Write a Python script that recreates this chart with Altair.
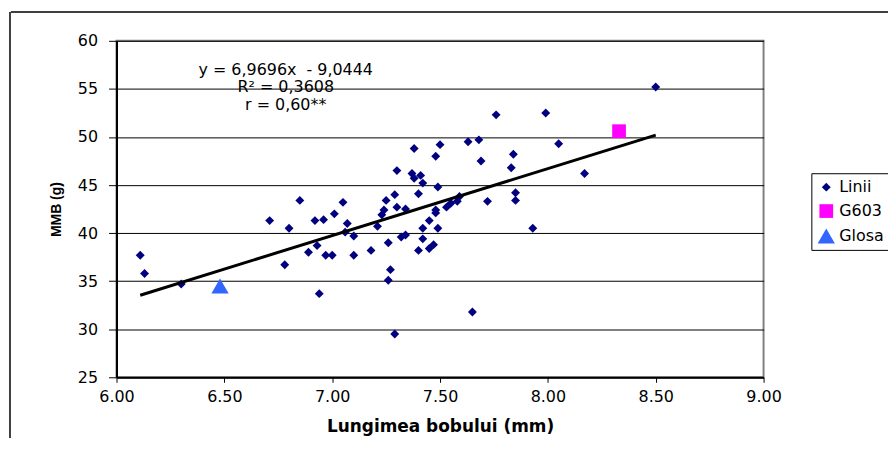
import altair as alt
import pandas as pd

# ---- data ----
linii_x = [6.11, 6.13, 6.30, 6.71, 6.78, 6.80, 6.85, 6.89, 6.92, 6.93, 6.94, 6.96,
           6.97, 7.00, 7.01, 7.05, 7.07, 7.06, 7.10, 7.10, 7.18, 7.21, 7.23, 7.24,
           7.25, 7.29, 7.26, 7.27, 7.26, 7.29, 7.30, 7.34, 7.34, 7.32, 7.40, 7.42,
           7.49, 7.48, 7.48, 7.45, 7.42, 7.49, 7.42, 7.40, 7.45, 7.47, 7.38, 7.50,
           7.48, 7.30, 7.37, 7.41, 7.38, 8.50, 7.76, 7.99, 7.63, 7.68, 8.05, 7.84,
           7.69, 7.83, 8.17, 7.72, 7.85, 7.85, 7.59, 7.55, 7.53, 7.58, 7.93, 7.65]
linii_y = [37.7, 35.8, 34.7, 41.3, 36.7, 40.5, 43.4, 38.0, 41.3, 38.7, 33.7, 41.4,
           37.7, 37.7, 42.0, 43.2, 41.0, 40.1, 39.7, 37.7, 38.2, 40.7, 41.9, 42.4,
           43.4, 44.0, 39.0, 36.2, 35.1, 29.5, 42.7, 42.5, 39.8, 39.6, 44.1, 45.2,
           44.8, 42.4, 42.1, 41.3, 40.5, 40.5, 39.4, 38.2, 38.4, 38.8, 48.8, 49.2,
           48.0, 46.5, 46.2, 46.0, 45.7, 55.2, 52.3, 52.5, 49.5, 49.7, 49.3, 48.2,
           47.5, 46.8, 46.2, 43.3, 44.2, 43.4, 43.8, 43.1, 42.7, 43.3, 40.5, 31.8]
g603_x = [8.33]
g603_y = [50.6]
glosa_x = [6.48]
glosa_y = [34.5]

series_names = ["Linii", "G603", "Glosa"]
series_colors = ["#000080", "#FF00FF", "#3366FF"]
series_shapes = ["diamond", "square", "triangle-up"]
series_sizes = [80, 300, 230]

trend_slope = 6.9696
trend_intercept = -9.0444
annotation_lines = ["y = 6,9696x \u00a0- 9,0444", "R² = 0,3608", "r = 0,60**"]

x_ticks = [6.0, 6.5, 7.0, 7.5, 8.0, 8.5, 9.0]
y_ticks = [25, 30, 35, 40, 45, 50, 55, 60]

# ---- tables ----
points = pd.DataFrame({
    "x": linii_x + g603_x + glosa_x,
    "y": linii_y + g603_y + glosa_y,
    "serie": ["Linii"] * len(linii_x) + ["G603"] * len(g603_x) + ["Glosa"] * len(glosa_x),
})
trend = pd.DataFrame({"x": [min(linii_x), max(linii_x)]})

FONT = "DejaVu Sans"

x_scale = alt.Scale(domain=[6, 9], nice=False, zero=False)
y_scale = alt.Scale(domain=[25, 60], nice=False, zero=False)

legend = alt.Legend(
    title=None, orient="none", legendX=698, legendY=133,
    strokeColor="black", fillColor="white", padding=6, cornerRadius=0,
    labelFont=FONT, labelFontSize=16, labelColor="black",
    symbolSize=70, symbolStrokeWidth=0, rowPadding=8, labelOffset=4,
)

pts = alt.Chart(points).mark_point(filled=True, opacity=1).encode(
    x=alt.X("x:Q", scale=x_scale,
            axis=alt.Axis(values=x_ticks, format=".2f", grid=False, labelFlush=False,
                          title="Lungimea bobului (mm)")),
    y=alt.Y("y:Q", scale=y_scale,
            axis=alt.Axis(values=y_ticks, grid=True, labelFlush=False, title="MMB (g)")),
    color=alt.Color("serie:N", scale=alt.Scale(domain=series_names, range=series_colors),
                    legend=legend),
    shape=alt.Shape("serie:N", scale=alt.Scale(domain=series_names, range=series_shapes),
                    legend=legend),
    size=alt.Size("serie:N", scale=alt.Scale(domain=series_names, range=series_sizes),
                  legend=None),
    order=alt.Order("serie:N", sort="descending"),
)

line = alt.Chart(trend).transform_calculate(
    y=f"{trend_slope} * datum.x + ({trend_intercept})"
).mark_line(color="black", strokeWidth=3).encode(
    x=alt.X("x:Q", scale=x_scale),
    y=alt.Y("y:Q", scale=y_scale),
)

annot = alt.Chart(pd.DataFrame({"a": [0]})).mark_text(
    font=FONT, fontSize=16, color="black", align="center", baseline="middle",
    lineHeight=17.5,
).encode(
    x=alt.value(170), y=alt.value(29), text=alt.value(annotation_lines),
)

# outer chart-area border (top and left edges, as in the reference)
frame_top = alt.Chart(pd.DataFrame({"a": [0]})).mark_rule(
    color="black", strokeWidth=1.5
).encode(
    x=alt.datum(5.51, scale=x_scale), x2=alt.datum(9.6),
    y=alt.datum(63.0, scale=y_scale),
)
frame_left = alt.Chart(pd.DataFrame({"a": [0]})).mark_rule(
    color="black", strokeWidth=1.5
).encode(
    x=alt.value(-107), y=alt.value(-29), y2=alt.value(600)
)

chart = alt.layer(pts, line, annot, frame_top, frame_left).properties(
    width=650, height=338,
    background="white",
    autosize=alt.AutoSizeParams(type="none"),
    padding={"left": 109, "top": 32, "right": 125, "bottom": 60},
).configure_view(
    stroke="#808080", strokeWidth=2
).configure_axis(
    labelFont=FONT, labelFontSize=16, labelColor="black",
    titleFont=FONT, titleColor="black", titleFontWeight="bold",
    domainColor="black", domainWidth=2, tickColor="black", tickWidth=1,
    gridColor="black", gridWidth=1, gridOpacity=1,
).configure_axisX(
    tickSize=5, labelPadding=6, titleFontSize=17, titlePadding=14,
).configure_axisY(
    tickSize=8, labelPadding=11, titleFont="Liberation Sans", titleFontSize=14,
    titlePadding=14,
)

chart.save("out.html", embed_options={"renderer": "svg", "actions": False})
